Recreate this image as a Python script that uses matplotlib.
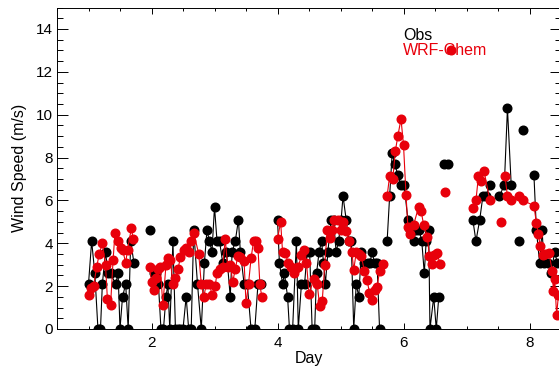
import numpy as np
import matplotlib
matplotlib.use('Agg')
import matplotlib.pyplot as plt

nan = np.nan

# --- Observed wind speed (black), NaN separates data gaps ---
obs_day = [1.00, 1.05, 1.10, 1.15, 1.19, 1.22, 1.27, 1.31, 1.35, 1.43, 1.47, 1.50, 1.54, 1.59, 1.63, 1.67, 1.72, nan,
           1.97, nan,
           2.04, 2.07, 2.11, 2.15, 2.19, 2.23, 2.26, 2.29, 2.34, 2.38, 2.42, 2.46, 2.50, 2.55, 2.59, 2.63, 2.67, 2.73,
           2.79, 2.84, 2.88, 2.92, 2.96, 3.00, 3.04, 3.08, 3.13, 3.19, 3.25, 3.28, 3.33, 3.38, 3.41, 3.47, 3.52, 3.58,
           3.64, 3.69, 3.74, nan,
           4.00, 4.03, 4.08, 4.11, 4.16, 4.19, 4.24, 4.30, 4.33, 4.38, 4.43, 4.47, 4.51, 4.55, 4.59, 4.62, 4.66, 4.70,
           4.73, 4.76, 4.80, 4.85, 4.89, 4.93, 4.97, 5.01, 5.04, 5.09, 5.13, 5.17, 5.21, 5.25, 5.29, 5.33, 5.38, 5.43,
           5.47, 5.50, 5.54, 5.58, 5.62, nan,
           5.74, 5.78, 5.82, 5.86, 5.91, 5.96, 6.01, 6.07, 6.11, 6.16, 6.20, 6.25, 6.29, 6.33, 6.36, 6.40, 6.42, 6.48,
           6.52, 6.56, nan,
           6.65, 6.70, nan,
           7.10, 7.15, 7.21, 7.26, 7.31, 7.37, nan,
           7.52, 7.60, 7.65, 7.71, nan,
           7.83, nan,
           7.90, nan,
           8.07, 8.11, 8.16, 8.20, 8.23, 8.29, 8.34, 8.40, 8.44]
obs_ws = [2.1, 4.1, 2.6, 0, 0, 2.1, 3.6, 2.6, 2.6, 2.1, 2.6, 0, 1.5, 2.1, 0, 4.1, 3.1, nan,
          4.6, nan,
          2.6, 2.6, 2.1, 0, 0, 1.5, 2.1, 0, 4.1, 0, 0, 0, 0, 1.5, 0, 0, 4.6, 2.1,
          0, 3.1, 4.6, 4.1, 3.6, 5.7, 4.1, 4.1, 3.1, 3.6, 1.5, 3.6, 4.1, 5.1, 3.6, 2.1, 2.1, 0,
          0, 2.1, 2.1, nan,
          5.1, 3.1, 2.1, 2.6, 1.5, 0, 0, 4.1, 0, 2.1, 2.1, 3.6, 3.6, 0, 0, 2.6, 3.6, 4.1,
          3.1, 2.1, 3.6, 5.1, 5.1, 3.6, 4.1, 5.1, 6.2, 5.1, 4.1, 4.1, 0, 2.1, 1.5, 3.6, 3.1, 3.1,
          3.1, 3.6, 3.1, 3.1, 0, nan,
          4.1, 6.2, 8.2, 7.7, 7.2, 6.7, 6.7, 5.1, 4.6, 4.1, 4.6, 4.6, 4.1, 2.6, 4.1, 4.6, 0, 1.5,
          0, 1.5, nan,
          7.7, 7.7, nan,
          5.1, 4.1, 5.1, 6.2, 6.2, 6.7, nan,
          6.2, 6.7, 10.3, 6.7, nan,
          4.1, nan,
          9.3, nan,
          7.2, 4.6, 3.1, 4.6, 3.1, 3.1, 2.6, 3.6, 3.1]

# --- WRF-Chem modelled wind speed (red) ---
wrf_day = [1.00, 1.04, 1.08, 1.13, 1.17, 1.22, 1.27, 1.30, 1.35, 1.39, 1.42, 1.47, 1.51, 1.54, 1.59, 1.62, 1.68, 1.71, nan,
           1.97, 2.00, 2.04, 2.07, 2.10, 2.14, 2.18, 2.23, 2.26, 2.30, 2.34, 2.38, 2.42, 2.46, 2.51, 2.55, 2.59, 2.63,
           2.67, 2.75, 2.79, 2.83, 2.87, 2.92, 2.96, 3.01, 3.04, 3.08, 3.13, 3.17, 3.21, 3.25, 3.29, 3.33, 3.37, 3.41,
           3.47, 3.50, 3.54, 3.58, 3.62, 3.66, 3.69, 3.72, 3.75, nan,
           4.00, 4.05, 4.08, 4.12, 4.17, 4.21, 4.26, 4.30, 4.33, 4.38, 4.42, 4.46, 4.50, 4.58, 4.63, 4.67, 4.71, 4.75,
           4.79, 4.84, 4.87, 4.90, 4.96, 5.00, 5.04, 5.09, 5.14, 5.18, 5.21, 5.25, 5.29, 5.33, 5.38, 5.42, 5.46, 5.50,
           5.55, 5.58, 5.62, 5.67, nan,
           5.74, 5.78, 5.83, 5.87, 5.91, 5.96, 6.00, 6.04, 6.07, 6.11, 6.16, 6.24, 6.28, 6.32, 6.38, 6.41, 6.45, 6.49,
           6.53, 6.58, nan,
           6.66, nan,
           7.10, 7.15, 7.19, 7.23, 7.28, 7.37, nan,
           7.54, nan,
           7.61, 7.65, 7.71, 7.83, 7.90, 8.07, 8.11, 8.14, 8.17, 8.21, 8.24, 8.31, 8.36, 8.38, 8.40, 8.43, 8.46]
wrf_ws = [1.6, 1.9, 2.0, 2.9, 3.5, 4.0, 3.0, 1.4, 1.1, 3.2, 4.5, 4.1, 3.8, 3.7, 3.1, 3.7, 4.7, 4.2, nan,
          2.9, 2.2, 1.8, 2.4, 2.8, 2.9, 1.1, 3.0, 3.3, 3.2, 2.1, 2.4, 2.8, 3.35, 3.7, 3.8, 3.6, 4.1,
          4.5, 3.5, 2.1, 1.5, 2.1, 2.1, 1.6, 2.0, 2.6, 2.8, 2.9, 4.2, 2.9, 3.0, 2.2, 2.8, 3.4, 3.35,
          3.15, 1.2, 2.1, 3.3, 4.1, 4.1, 3.8, 2.1, 1.5, nan,
          4.2, 5.0, 3.6, 3.55, 3.1, 2.9, 2.6, 2.85, 2.9, 3.45, 3.7, 3.1, 1.65, 2.35, 2.1, 1.05, 1.3, 3.0,
          4.6, 4.25, 4.6, 5.1, 5.1, 4.6, 5.0, 4.55, 4.1, 3.6, 2.75, 3.6, 3.5, 3.4, 2.7, 2.3, 1.7, 1.35,
          1.8, 1.95, 2.7, 3.05, nan,
          6.2, 7.15, 7.0, 8.3, 9.0, 9.8, 8.6, 6.25, 4.75, 4.45, 4.85, 5.7, 5.5, 4.85, 4.3, 3.4, 3.05, 3.45,
          3.55, 3.05, nan,
          6.37, nan,
          5.65, 6.0, 7.15, 6.9, 7.35, 6.0, nan,
          4.97, nan,
          7.15, 6.2, 6.0, 6.2, 6.0, 5.75, 4.95, 4.45, 3.85, 3.45, 3.5, 3.55, 2.7, 1.75, 2.35, 0.65, 1.6]

plt.rcParams['font.family'] = ['Liberation Sans', 'DejaVu Sans']

fig = plt.figure(figsize=(5.59, 3.75), dpi=100)
ax = fig.add_axes([57 / 559, 46 / 375, 504 / 559, 321.5 / 375])

ax.plot(obs_day, obs_ws, color='black', lw=0.8, marker='o', ms=6.2, mec='black', mfc='black')
ax.plot(wrf_day, wrf_ws, color='#e8000b', lw=0.8, marker='o', ms=6.2, mec='#e8000b', mfc='#e8000b')

ax.set_xlim(0.5, 8.5)
ax.set_ylim(0, 15)
ax.set_xticks([2, 4, 6, 8])
ax.set_xticks(np.arange(0.5, 8.51, 0.5), minor=True)
ax.set_yticks([0, 2, 4, 6, 8, 10, 12, 14])
ax.set_yticks(np.arange(0, 15.01, 0.5), minor=True)

ax.tick_params(axis='both', which='both', direction='in', top=True, right=True, labelsize=11)
ax.tick_params(axis='y', which='major', length=8, width=0.7, pad=3)
ax.tick_params(axis='y', which='minor', length=4, width=0.7)
ax.tick_params(axis='x', which='major', length=4.6, width=0.7, pad=5)
ax.tick_params(axis='x', which='minor', length=2.4, width=0.7)
for s in ax.spines.values():
    s.set_linewidth(0.7)

ax.set_xlabel('Day', fontsize=11.5, labelpad=1)
ax.set_ylabel('Wind Speed (m/s)', fontsize=11.5, labelpad=6)

# legend-like annotation as in the original (IDL xyouts)
fig.text(403 / 559, 1 - 40 / 375, 'Obs', color='black', fontsize=11.5, va='baseline')
fig.text(403 / 559, 1 - 55 / 375, 'WRF-Chem', color='#e8000b', fontsize=11.5, va='baseline')
fig.add_artist(plt.Line2D([451 / 559], [1 - 50 / 375], marker='o', ms=6.2, color='#e8000b',
                          transform=fig.transFigure))

fig.savefig('out.png', dpi=100)
